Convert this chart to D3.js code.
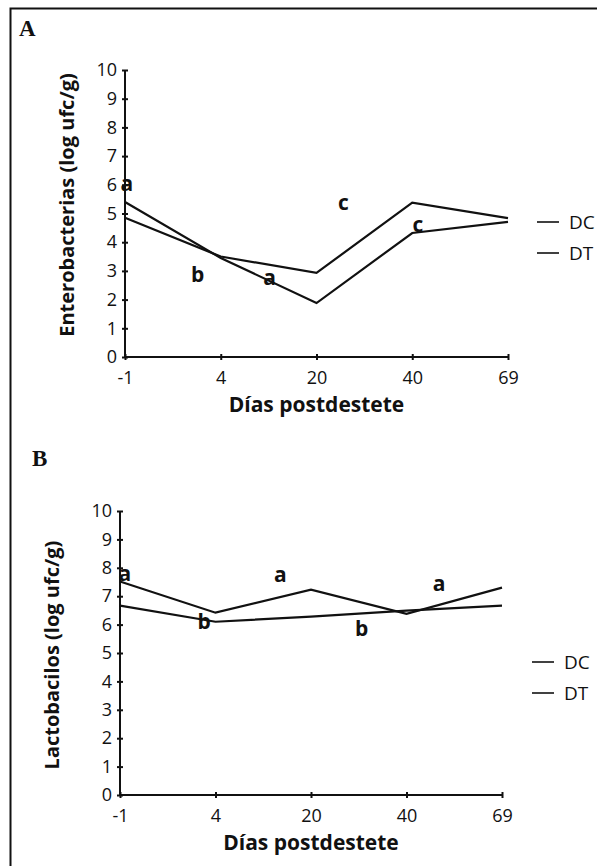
<!DOCTYPE html>
<html>
<head>
<meta charset="utf-8">
<script src="https://cdn.jsdelivr.net/npm/d3@7"></script>
<style>
  body { margin: 0; background: #fff; }
  text { fill: #111; }
  .axis path, .axis line { stroke: #111; stroke-width: 2; }
  .axis text { font-family: "Open Sans", sans-serif; font-size: 18px; }
  .serie { fill: none; stroke: #111; stroke-width: 2.2; }
</style>
</head>
<body>
<script>
const days = ['-1', '4', '20', '40', '69']
const yTicks = [0, 1, 2, 3, 4, 5, 6, 7, 8, 9, 10]

// A: enterobacterias
const enteroDC = [5.4, 3.45, 1.88, 4.32, 4.71]
const enteroDT = [4.85, 3.5, 2.93, 5.38, 4.84]
// letters: position as fractional day index, value
const enteroLetters = [
  { i: 0.02, v: 6.05, t: 'a' },
  { i: 0.76, v: 2.86, t: 'b' },
  { i: 1.51, v: 2.75, t: 'a' },
  { i: 2.28, v: 5.37, t: 'c' },
  { i: 3.06, v: 4.6, t: 'c' }
]

// B: lactobacilos
const lactoDC = [7.52, 6.42, 7.23, 6.38, 7.3]
const lactoDT = [6.67, 6.1, 6.28, 6.49, 6.67]
const lactoLetters = [
  { i: 0.05, v: 7.8, t: 'a' },
  { i: 0.88, v: 6.1, t: 'b' },
  { i: 1.68, v: 7.77, t: 'a' },
  { i: 2.53, v: 5.85, t: 'b' },
  { i: 3.34, v: 7.45, t: 'a' }
]

const svg = d3.select('body').append('svg')
  .attr('width', 597)
  .attr('height', 866)

// frame (cropped figure: top and left edges only)
svg.append('path')
  .attr('d', 'M10.5,866 V8.5 H597')
  .attr('fill', 'none')
  .attr('stroke', '#111')
  .attr('stroke-width', 2)

const drawPanel = (cfg) => {
  const x = d3.scalePoint().domain(days).range([cfg.x0, cfg.x1])
  const xi = d3.scaleLinear().domain([0, days.length - 1]).range([cfg.x0, cfg.x1])
  const y = d3.scaleLinear().domain([0, 10]).range([cfg.y0, cfg.y1])

  svg.append('text')
    .attr('x', cfg.tagX).attr('y', cfg.tagY)
    .attr('font-family', 'Liberation Serif, serif')
    .attr('font-weight', 'bold')
    .attr('font-size', 23)
    .text(cfg.tag)

  const yAxis = svg.append('g')
    .attr('class', 'axis')
    .attr('transform', 'translate(' + cfg.x0 + ',0)')
    .call(d3.axisLeft(y).tickValues(yTicks).tickSize(3).tickSizeOuter(0).tickPadding(5))
  yAxis.selectAll('.tick line').attr('x2', 3).attr('x1', -3)
  yAxis.select('.domain').attr('d', 'M0,' + cfg.y0 + 'V' + cfg.y1)

  const xAxis = svg.append('g')
    .attr('class', 'axis')
    .attr('transform', 'translate(0,' + cfg.y0 + ')')
    .call(d3.axisBottom(x).tickSize(3).tickSizeOuter(0).tickPadding(11))
  xAxis.selectAll('.tick line').attr('y1', -3).attr('y2', 3)
  xAxis.select('.domain').attr('d', 'M' + cfg.x0 + ',0H' + cfg.x1)

  svg.append('text')
    .attr('transform', 'translate(' + cfg.ylabX + ',' + cfg.ylabY + ') rotate(-90)')
    .attr('text-anchor', 'middle')
    .attr('font-family', '"Open Sans", sans-serif')
    .attr('font-weight', 'bold')
    .attr('font-size', 20)
    .text(cfg.ylabel)

  svg.append('text')
    .attr('x', (cfg.x0 + cfg.x1) / 2)
    .attr('y', cfg.y0 + 55)
    .attr('text-anchor', 'middle')
    .attr('font-family', '"Open Sans", sans-serif')
    .attr('font-weight', 'bold')
    .attr('font-size', 21)
    .text('Días postdestete')

  const line = d3.line()
    .x((d, i) => x(days[i]))
    .y(d => y(d))

  cfg.series.forEach(s => {
    svg.append('path')
      .datum(s.values)
      .attr('class', 'serie')
      .attr('d', line)
  })

  svg.selectAll(null)
    .data(cfg.letters)
    .enter().append('text')
    .attr('x', d => xi(d.i))
    .attr('y', d => y(d.v))
    .attr('dy', '0.35em')
    .attr('text-anchor', 'middle')
    .attr('font-family', '"Open Sans", sans-serif')
    .attr('font-weight', 'bold')
    .attr('font-size', 21)
    .text(d => d.t)

  const leg = svg.append('g')
  cfg.series.forEach((s, k) => {
    const ly = cfg.legY + k * cfg.legGap
    leg.append('line')
      .attr('x1', cfg.legX).attr('x2', cfg.legX + 22)
      .attr('y1', ly).attr('y2', ly)
      .attr('stroke', '#111').attr('stroke-width', 1.6)
    leg.append('text')
      .attr('x', cfg.legX + 32).attr('y', ly)
      .attr('dy', '0.35em')
      .attr('font-family', '"Open Sans", sans-serif')
      .attr('font-size', 19)
      .text(s.name)
  })
}

drawPanel({
  tag: 'A', tagX: 19, tagY: 36,
  x0: 125, x1: 508, y0: 357, y1: 70,
  ylabel: 'Enterobacterias (log ufc/g)', ylabX: 74, ylabY: 205,
  series: [{ name: 'DC', values: enteroDC }, { name: 'DT', values: enteroDT }],
  letters: enteroLetters,
  legX: 537, legY: 222, legGap: 31
})

drawPanel({
  tag: 'B', tagX: 32, tagY: 466,
  x0: 120, x1: 502, y0: 795, y1: 511,
  ylabel: 'Lactobacilos (log ufc/g)', ylabX: 59, ylabY: 655,
  series: [{ name: 'DC', values: lactoDC }, { name: 'DT', values: lactoDT }],
  letters: lactoLetters,
  legX: 532, legY: 662, legGap: 31
})
</script>
</body>
</html>
